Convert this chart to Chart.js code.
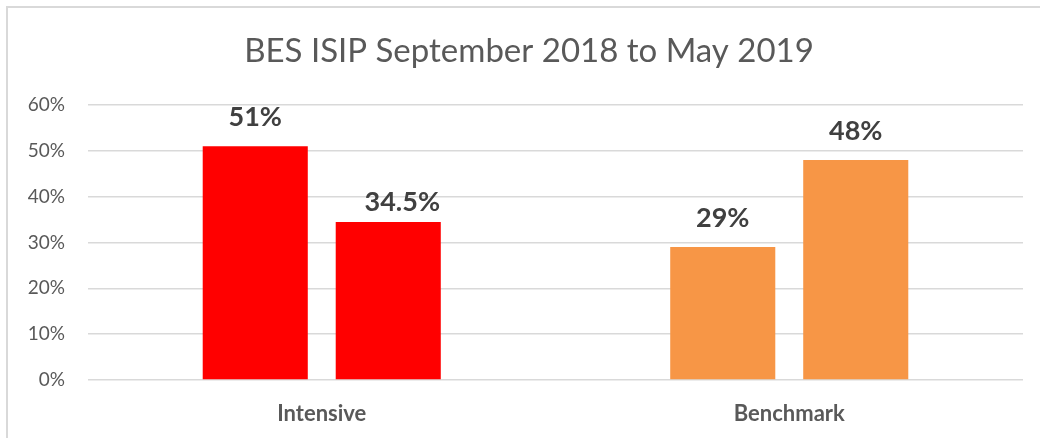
<!DOCTYPE html>
<html>
<head>
<meta charset="utf-8">
<script src="https://cdn.jsdelivr.net/npm/chart.js@4"></script>
<style>
    html, body { margin: 0; padding: 0; background: #fff; }
    .wrap { position: relative; width: 1040px; height: 438px; overflow: hidden; }
    .frame {
        position: absolute; left: 6px; top: 6px; width: 1100px; height: 500px;
        border-left: 2px solid #d9d9d9; border-top: 2px solid #d9d9d9;
    }
    canvas { position: absolute; left: 0; top: 0; }
</style>
</head>
<body>
<div class="wrap">
    <div class="frame"></div>
    <canvas id="chart" width="1040" height="438"></canvas>
</div>
<script>
// Chart data
const categories = ["Intensive", "Benchmark"];
const firstBars = [51, 29];
const secondBars = [34.5, 48];
const barColors = ["#FF0000", "#F79646"];
const yMin = 0, yMax = 60, yStep = 10;
const titleText = "BES ISIP September 2018 to May 2019";

const FONT = "Lato, 'Open Sans', sans-serif";

// Title centred over the whole frame (Excel centres it on the chart box, not the plot)
const frameTitle = {
    id: 'frameTitle',
    afterDraw(chart, args, opts) {
        const ctx = chart.ctx;
        ctx.save();
        ctx.font = "33px " + FONT;
        ctx.fillStyle = "#595959";
        ctx.textAlign = "center";
        ctx.textBaseline = "alphabetic";
        ctx.fillText(opts.text, opts.x, opts.y);
        ctx.restore();
    }
};

// Value labels above each bar
const valueLabels = {
    id: 'valueLabels',
    afterDatasetsDraw(chart, args, opts) {
        const ctx = chart.ctx;
        ctx.save();
        ctx.font = "bold 27px " + FONT;
        ctx.fillStyle = "#404040";
        ctx.textAlign = "center";
        ctx.textBaseline = "alphabetic";
        chart.data.datasets.forEach((ds, di) => {
            const meta = chart.getDatasetMeta(di);
            meta.data.forEach((bar, i) => {
                const nudge = (opts.nudge[di] && opts.nudge[di][i]) || [0, 0];
                ctx.fillText(ds.data[i] + "%", bar.x + nudge[0], bar.y - 20 + nudge[1]);
            });
        });
        ctx.restore();
    }
};

const ctx = document.getElementById('chart').getContext('2d');
const chart = new Chart(ctx, {
    type: 'bar',
    data: {
        labels: categories,
        datasets: [
            { label: 'First', data: firstBars, backgroundColor: barColors },
            { label: 'Second', data: secondBars, backgroundColor: barColors }
        ]
    },
    options: {
        responsive: false,
        animation: false,
        categoryPercentage: 0.569,
        barPercentage: 0.79,
        layout: { padding: { left: 0, right: 17, top: 105, bottom: 0 } },
        plugins: {
            legend: { display: false },
            tooltip: { enabled: false },
            title: { display: false },
            frameTitle: { text: titleText, x: 529, y: 62 },
            valueLabels: { nudge: [[], [[14, 9]]] }
        },
        scales: {
            x: {
                grid: { display: false },
                border: { display: false },
                ticks: {
                    color: "#595959",
                    font: { family: FONT, size: 22, weight: 'bold' },
                    padding: 13
                },
                afterFit: s => { s.height = 58; }
            },
            y: {
                min: yMin,
                max: yMax,
                grid: { color: "#d9d9d9", lineWidth: 1.5, drawTicks: false },
                border: { display: false },
                ticks: {
                    stepSize: yStep,
                    color: "#595959",
                    font: { family: FONT, size: 19 },
                    padding: 23,
                    callback: v => v + "%"
                },
                afterFit: s => { s.width = 88; }
            }
        }
    },
    plugins: [valueLabels, frameTitle]
});
</script>
</body>
</html>
